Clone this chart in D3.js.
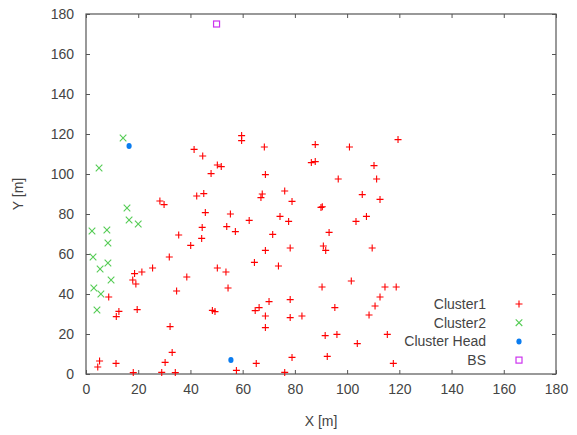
<!DOCTYPE html>
<html>
<head>
<meta charset="utf-8">
<script src="https://cdn.jsdelivr.net/npm/d3@7"></script>
<style>
  body { margin: 0; background: #fff; }
  text { font-family: "Liberation Sans", Arial, sans-serif; fill: #444; }
</style>
</head>
<body>
<script>
// Node positions [x, y] in metres
var cluster1 = [
  [41.4,112.3],[44.7,109],[50.3,104.5],[51.8,103.7],[47.9,100.2],[42.4,89],[45.1,90.2],
  [28.3,86.5],[29.9,84.7],[45.7,80.7],[55.3,80],[44.5,73.3],[53.9,73.7],[57.2,71.2],
  [35.5,69.5],[44.3,67.8],[40.1,64.3],[31.9,58.5],[25.5,53],[21.4,51],[18.6,50.2],
  [17.9,47],[19.1,45],[38.6,48.5],[50.3,53],[53.6,51],[54.4,43],[34.7,41.5],[8.7,38.5],
  [12.6,31.3],[11.6,28.7],[19.6,32.2],[48.4,31.8],[49.4,31.2],[32.2,23.7],[33,10.8],
  [30.3,5.8],[5.2,6.5],[4.5,3.5],[11.5,5.3],[18.1,0.7],[29,0.8],[34.2,0.7],[57.6,1.8],
  [59.6,119.2],[59.6,116.7],[68.3,113.5],[87.8,114.7],[100.9,113.5],[119.5,117.2],
  [86.3,105.7],[87.8,106.2],[110.3,104.2],[111.3,97.5],[96.6,97.5],[68.7,99.7],[67.5,90],
  [67,88.2],[76.1,91.5],[78.9,86.3],[105.8,89.7],[112.6,87.3],[90,83.3],[90.5,83.6],
  [62.5,76.8],[74.3,78.8],[77.6,76.3],[107.4,78.8],[103.4,76.3],[71.5,69.8],[93.1,70.8],
  [68.7,61.8],[78.2,63],[90.9,64],[91.8,61.8],[109.6,63],[64.5,55.8],[73.7,54],
  [90.4,43.5],[101.6,46.5],[114.5,43.5],[118.8,43.5],[112.6,38.5],[110.7,34],[108.4,29.5],
  [70.1,36.2],[78.2,37.2],[66.3,33.2],[64.8,31.7],[68.7,29],[68.7,23.2],[78.2,28.2],
  [82.7,29],[95.3,33.2],[91.6,19.2],[96.1,19.8],[103.9,15.2],[115.4,19.8],[78.9,8.3],
  [92.4,8.8],[65.2,5.3],[117.7,5.3],[76.1,0.8]
];
var cluster2 = [
  [14.2,118],[5,103],[15.7,83],[8,72],[16.5,77],[20,75],[2.3,71.5],[8.4,65.5],
  [2.7,58.5],[8.4,55.5],[5.4,52.5],[9.6,47],[3,43],[5.7,40],[4.2,32]
];
var clusterHeads = [[16.5,114],[55.5,7]];
var baseStation = [[50,175]];
var xTicks = [0,20,40,60,80,100,120,140,160,180];
var yTicks = [0,20,40,60,80,100,120,140,160,180];
var legendNames = ["Cluster1","Cluster2","Cluster Head","BS"];

var w = 577, h = 435;
var margin = {top: 14, right: 21, bottom: 61, left: 86};
var gw = w - margin.left - margin.right;
var gh = h - margin.top - margin.bottom;

var svg = d3.select("body").append("svg")
  .attr("width", w).attr("height", h);

var graph = svg.append("g")
  .attr("transform", `translate(${margin.left}, ${margin.top})`);

var xScale = d3.scaleLinear().domain([0, 180]).range([0, gw]);
var yScale = d3.scaleLinear().domain([0, 180]).range([gh, 0]);

// axes, ticks point inward on all four sides
function styleAxis(g) {
  g.select(".domain").remove();
  g.selectAll(".tick line").attr("stroke", "#555");
  g.selectAll("text").style("font-size", "14px").attr("fill", "#444");
}
graph.append("g").attr("transform", `translate(0, ${gh})`)
  .call(d3.axisBottom(xScale).tickValues(xTicks).tickSizeInner(-4).tickSizeOuter(0).tickPadding(10))
  .call(styleAxis);
graph.append("g")
  .call(d3.axisLeft(yScale).tickValues(yTicks).tickSizeInner(-4).tickSizeOuter(0).tickPadding(12))
  .call(styleAxis);
graph.append("g")
  .call(d3.axisTop(xScale).tickValues(xTicks).tickSizeInner(-4).tickSizeOuter(0).tickFormat(""))
  .call(styleAxis);
graph.append("g").attr("transform", `translate(${gw}, 0)`)
  .call(d3.axisRight(yScale).tickValues(yTicks).tickSizeInner(-4).tickSizeOuter(0).tickFormat(""))
  .call(styleAxis);

graph.append("rect")
  .attr("width", gw).attr("height", gh)
  .attr("fill", "none").attr("stroke", "#555").attr("stroke-width", 1.2);

// markers
function plusPath(s) { return `M${-s},0H${s}M0,${-s}V${s}`; }
function crossPath(s) { return `M${-s},${-s}L${s},${s}M${-s},${s}L${s},${-s}`; }

var red = "#ff0000", green = "#55cc55", blue = "#0a7cf0", purple = "#cc33ee";

graph.selectAll(".c1").data(cluster1).enter().append("path")
  .attr("class", "c1")
  .attr("transform", d => `translate(${xScale(d[0])},${yScale(d[1])})`)
  .attr("d", plusPath(3.5))
  .attr("stroke", red).attr("stroke-width", 1.1).attr("fill", "none");

graph.selectAll(".c2").data(cluster2).enter().append("path")
  .attr("class", "c2")
  .attr("transform", d => `translate(${xScale(d[0])},${yScale(d[1])})`)
  .attr("d", crossPath(3.3))
  .attr("stroke", green).attr("stroke-width", 1.1).attr("fill", "none");

graph.selectAll(".ch").data(clusterHeads).enter().append("ellipse")
  .attr("class", "ch")
  .attr("cx", d => xScale(d[0])).attr("cy", d => yScale(d[1]))
  .attr("rx", 2.6).attr("ry", 3).attr("fill", blue);

graph.selectAll(".bs").data(baseStation).enter().append("rect")
  .attr("class", "bs")
  .attr("x", d => xScale(d[0]) - 3).attr("y", d => yScale(d[1]) - 3)
  .attr("width", 6).attr("height", 6)
  .attr("fill", "none").attr("stroke", purple).attr("stroke-width", 1.2);

// legend
var legend = svg.append("g");
legendNames.forEach(function(name, i) {
  var y = 304 + i * 18.7;
  legend.append("text")
    .attr("x", 486).attr("y", y).attr("dy", "0.35em")
    .attr("text-anchor", "end").style("font-size", "14px")
    .text(name);
  var g = legend.append("g").attr("transform", `translate(519, ${y})`);
  if (i == 0) g.append("path").attr("d", plusPath(3.5)).attr("stroke", red).attr("stroke-width", 1.1);
  if (i == 1) g.append("path").attr("d", crossPath(3.3)).attr("stroke", green).attr("stroke-width", 1.1);
  if (i == 2) g.append("ellipse").attr("rx", 2.6).attr("ry", 3).attr("fill", blue);
  if (i == 3) g.append("rect").attr("x", -3).attr("y", -3).attr("width", 6).attr("height", 6)
    .attr("fill", "none").attr("stroke", purple).attr("stroke-width", 1.2);
});

// axis titles
svg.append("text")
  .attr("x", margin.left + gw / 2).attr("y", 421).attr("dy", "0.35em")
  .attr("text-anchor", "middle").style("font-size", "14px")
  .text("X [m]");
svg.append("text")
  .attr("transform", `translate(18, ${margin.top + gh / 2}) rotate(-90)`)
  .attr("dy", "0.35em")
  .attr("text-anchor", "middle").style("font-size", "14px")
  .text("Y [m]");
</script>
</body>
</html>
